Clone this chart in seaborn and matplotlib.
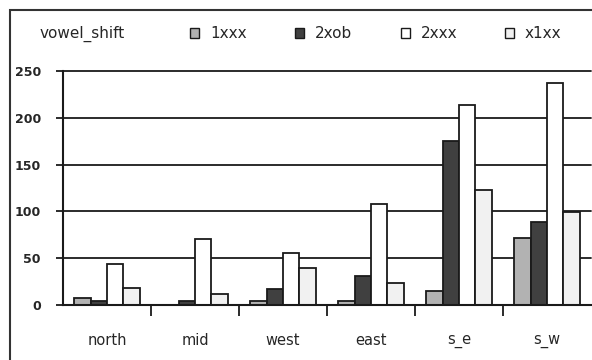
import matplotlib
matplotlib.use("Agg")
import matplotlib.pyplot as plt
from matplotlib.patches import Rectangle, Patch
import pandas as pd
import seaborn as sns

regions = ["north", "mid", "west", "east", "s_e", "s_w"]
series = ["1xxx", "2xob", "2xxx", "x1xx"]
v_1xxx = [8, 0, 4, 4, 15, 72]
v_2xob = [4, 4, 17, 31, 175, 89]
v_2xxx = [44, 70, 56, 108, 214, 237]
v_x1xx = [18, 12, 39, 23, 123, 99]
y_ticks = [0, 50, 100, 150, 200, 250]

colors = ["#b2b2b2", "#404040", "#ffffff", "#f1f1f1"]
edge = "#1a1a1a"

rows = []
for name, vals in zip(series, [v_1xxx, v_2xob, v_2xxx, v_x1xx]):
    for reg, v in zip(regions, vals):
        rows.append({"region": reg, "vowel_shift": name, "count": v})
df = pd.DataFrame(rows)

sns.set_style("white")
plt.rcParams["font.family"] = ["DejaVu Sans"]

fig = plt.figure(figsize=(5.92, 3.6), dpi=100)
ax = fig.add_axes([63 / 592, 55 / 360, (591 - 63) / 592, 234 / 360])

sns.barplot(data=df, x="region", y="count", hue="vowel_shift",
            hue_order=series, order=regions, palette=colors, saturation=1,
            width=0.74, edgecolor=edge, linewidth=1.3, ax=ax, legend=False,
            errorbar=None)

ax.set_xlim(-0.5, 5.5)
ax.set_ylim(0, 250)
ax.set_yticks(y_ticks)
ax.set_yticklabels([str(t) for t in y_ticks], fontsize=9, fontweight="bold")
ax.set_xticks(range(len(regions)))
ax.set_xticklabels(regions, fontsize=10.5)
ax.set_xticks([i + 0.5 for i in range(len(regions) - 1)], minor=True)
ax.tick_params(axis="x", which="major", length=0, pad=20)
ax.tick_params(axis="x", which="minor", length=8, width=1.3, color=edge,
               direction="out", bottom=True)
ax.tick_params(axis="y", length=5, width=1.3, color=edge, pad=11, left=True)
ax.set_xlabel("")
ax.set_ylabel("")

ax.yaxis.grid(True, color=edge, linewidth=1.3)
for gl in ax.get_ygridlines():
    gl.set_clip_on(False)
ax.set_axisbelow(True)
for side in ["top", "right"]:
    ax.spines[side].set_visible(False)
for side in ["left", "bottom"]:
    ax.spines[side].set_color(edge)
    ax.spines[side].set_linewidth(1.5)

# outer chart frame
fig.add_artist(Rectangle((10 / 592, -0.1), 1.0, 350 / 360 + 0.1,
                         transform=fig.transFigure, fill=False,
                         lw=1.5, ec="#333333"))

# legend row: title on the left, one entry per series
legend_y = 1 - 34 / 360
fig.text(40 / 592, legend_y, "vowel_shift", va="center", fontsize=11)
entry_x = [190, 295, 401, 505]
for name, c, x in zip(series, colors, entry_x):
    fig.legend([Patch(facecolor=c, edgecolor=edge, linewidth=1.0)],
               [name], loc="center left",
               bbox_to_anchor=(x / 592, legend_y), frameon=False,
               fontsize=11, handlelength=0.6, handleheight=0.6,
               handletextpad=0.7, borderpad=0, borderaxespad=0)

fig.savefig("out.png", dpi=100, facecolor="white")
